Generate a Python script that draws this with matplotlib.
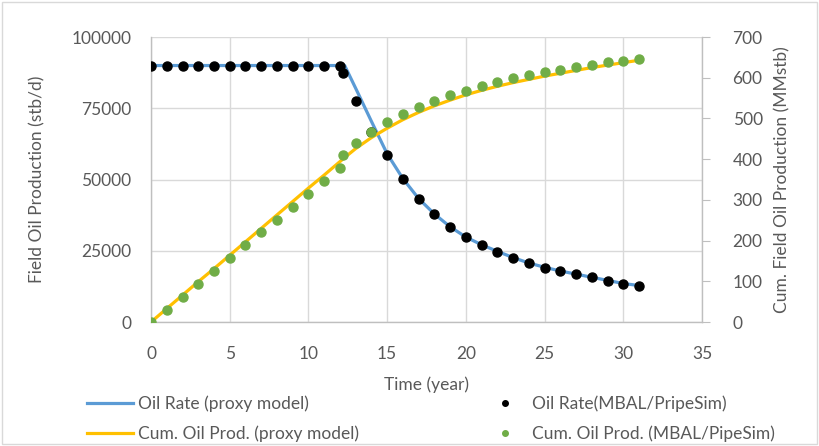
import matplotlib.pyplot as plt
from matplotlib.lines import Line2D
from matplotlib.patches import Rectangle

plt.rcParams['font.family'] = ['Lato', 'DejaVu Sans']

# proxy model oil rate (stb/d)
proxy_t = [0, 12.3, 13, 14, 15, 16, 17, 18, 19, 20, 21, 22, 23, 24, 25,
           26, 27, 28, 29, 30, 31]
proxy_rate = [90000, 90000, 82000, 70400, 59000, 50300, 43300, 37900, 33400,
              29800, 27100, 24800, 22600, 20700, 19200, 17900, 16800, 15700,
              14600, 13500, 12800]

# proxy model cumulative oil (MMstb)
cum_t = [0, 1, 2, 3, 4, 5, 6, 7, 8, 9, 10, 11, 12, 12.3, 13, 14, 15, 16, 17,
         18, 19, 20, 21, 22, 23, 24, 25, 26, 27, 28, 29, 30, 31]
cum_proxy = [0, 33, 66, 99, 131, 164, 197, 230, 263, 296, 329, 361, 394, 404,
             426, 453, 476, 497, 515, 531, 545, 558, 569, 579, 588, 596, 604,
             611, 618, 625, 631, 637, 643]

# MBAL/PipeSim results
mbal_t = [0, 1, 2, 3, 4, 5, 6, 7, 8, 9, 10, 11, 12, 12.2, 13, 14, 15, 16, 17,
          18, 19, 20, 21, 22, 23, 24, 25, 26, 27, 28, 29, 30, 31]
mbal_rate = [90000] * 13 + [87300, 77500, 66700, 58700, 50200, 43100, 37800,
                            33300, 29700, 27000, 24700, 22500, 20600, 19100,
                            17900, 16700, 15700, 14500, 13400, 12700]
mbal_cum = [0, 30, 62, 93, 125, 157, 188, 220, 251, 283, 315, 346, 378, 409,
            440, 467, 491, 512, 529, 544, 558, 568, 580, 589, 599, 606, 613,
            620, 626, 632, 638, 642, 647]

c_blue = '#5B9BD5'
c_orange = '#FFC000'
c_green = '#70AD47'
c_text = '#595959'
c_grid = '#D9D9D9'
c_axis = '#BFBFBF'

fig = plt.figure(figsize=(8.19, 4.46), dpi=100)
ax = fig.add_axes([0.1844, 0.278, 0.6728, 0.639])
ax2 = ax.twinx()

ax.plot(proxy_t, proxy_rate, color=c_blue, lw=2.3, zorder=3)
ax.plot(mbal_t, mbal_rate, 'o', color='black', ms=6.5, zorder=4)
ax2.plot(cum_t, cum_proxy, color=c_orange, lw=2.3, zorder=3)
ax2.plot(mbal_t, mbal_cum, 'o', color=c_green, ms=6.5, zorder=4)

ax.set_xlim(0, 35)
ax.set_ylim(0, 100000)
ax2.set_ylim(0, 700)
ax.set_xticks(range(0, 36, 5))
ax.set_yticks(range(0, 100001, 25000))
ax2.set_yticks(range(0, 701, 100))

ax.grid(True, color=c_grid, lw=1.0)
ax.set_axisbelow(True)

for a in (ax, ax2):
    a.spines['top'].set_visible(False)
    for s in ('left', 'bottom', 'right'):
        a.spines[s].set_color(c_axis)
        a.spines[s].set_linewidth(1.0)
ax.spines['right'].set_visible(False)
ax2.spines['left'].set_visible(False)
ax2.spines['bottom'].set_visible(False)

ax.tick_params(axis='y', length=0, labelsize=12.5, labelcolor=c_text, pad=14)
ax.tick_params(axis='x', length=0, labelsize=12.5, labelcolor=c_text, pad=17)
ax2.tick_params(axis='y', length=6, color=c_axis, labelsize=12.5,
                labelcolor=c_text, pad=16)

ax.set_xlabel('Time (year)', fontsize=12.5, color=c_text, labelpad=11)
ax.set_ylabel('Field Oil Production (stb/d)', fontsize=12.5, color=c_text,
              labelpad=19)
ax2.set_ylabel('Cum. Field Oil Production (MMstb)', fontsize=12.5,
               color=c_text, labelpad=8)

h_blue = Line2D([], [], color=c_blue, lw=2.3)
h_orange = Line2D([], [], color=c_orange, lw=2.3)
h_black = Line2D([], [], ls='none', marker='o', color='black', ms=4)
h_green = Line2D([], [], ls='none', marker='o', color=c_green, ms=4)

leg_kw = dict(frameon=False, fontsize=12.5, labelcolor=c_text,
              handletextpad=0.3, labelspacing=0.78, loc='upper left')
fig.legend([h_blue, h_orange],
           ['Oil Rate (proxy model)', 'Cum. Oil Prod. (proxy model)'],
           bbox_to_anchor=(0.087, 0.148), handlelength=2.65, **leg_kw)
fig.legend([h_black, h_green],
           ['Oil Rate(MBAL/PripeSim)', 'Cum. Oil Prod. (MBAL/PipeSim)'],
           bbox_to_anchor=(0.571, 0.148), handlelength=2.5, **leg_kw)

# chart border
fig.add_artist(Rectangle((0.003, 0.004), 0.994, 0.992, transform=fig.transFigure,
                         fill=False, edgecolor=c_grid, lw=1.0))

fig.savefig('out.png', dpi=100)
